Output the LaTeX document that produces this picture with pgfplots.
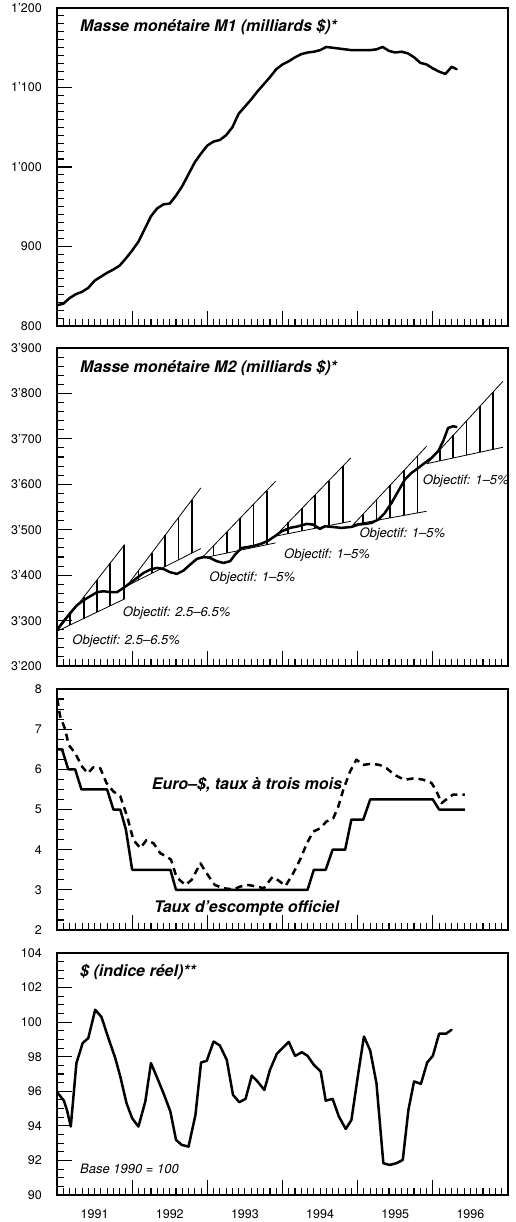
\documentclass[border=0pt]{standalone}
\usepackage{pgfplots}
\pgfplotsset{compat=1.18}
\usepackage{fontspec}
\setmainfont{TeX Gyre Heros}

\newcommand\paneltitle{\fontsize{16}{18}\selectfont\bfseries\itshape}
\newcommand\notefont{\fontsize{13}{15}\selectfont\itshape}
\newcommand\tickfont{\fontsize{12.5}{14}\selectfont}

\pgfplotsset{
  panel/.style={
    scale only axis,
    width=451pt,
    xmin=0, xmax=72,
    axis line style={line width=1.2pt},
    tick style={black, line width=1.1pt},
    major tick length=15pt,
    minor tick length=7pt,
    tick align=inside,
    xtick={0,12,...,72},
    minor x tick num=11,
    xtick pos=left, ytick pos=left,
    xticklabels={},
    scaled y ticks=false,
    /pgf/number format/1000 sep={'},
    yticklabel={\pgfmathprintnumber[assume math mode=true]{\tick}},
    yticklabel style={font=\tickfont, inner sep=0pt, xshift=-15pt, anchor=east},
    unbounded coords=jump,
  },
  curve/.style={black, line width=2.5pt, line join=round, line cap=round},
  band/.style={black, line width=0.8pt},
  hatch/.style={black, line width=1.8pt},
}

\begin{document}
\begin{tikzpicture}
\useasboundingbox (0,0) rectangle (515pt,-1222pt);

% ---------- M1 ----------
\begin{axis}[panel, at={(57pt,-8pt)}, anchor=north west, height=318pt,
  ymin=800, ymax=1200, ytick={800,900,1000,1100,1200}, minor y tick num=9]
\addplot[curve] coordinates {
(0,826) (1,828) (2,835) (3,840) (4,843) (5,848) (6,857) (7,862) (8,867) (9,871)
(10,876) (11,885) (12,895) (13,906) (14,922) (15,938) (16,948) (17,953) (18,954) (19,964)
(20,976) (21,991) (22,1006) (23,1017) (24,1027) (25,1032) (26,1034) (27,1040) (28,1050) (29,1067)
(30,1076) (31,1085) (32,1095) (33,1104) (34,1113) (35,1123) (36,1129) (37,1133) (38,1138) (39,1142)
(40,1144) (41,1145) (42,1147) (43,1151) (44,1150) (45,1149) (46,1148) (47,1147) (48,1147) (49,1147)
(50,1147) (51,1148) (52,1151) (53,1146) (54,1144) (55,1145) (56,1143) (57,1138) (58,1131) (59,1129)
(60,1124) (61,1120) (62,1117) (63,1126) (63.8,1123)
};
\node[anchor=base west, font=\paneltitle, inner sep=0pt] at (axis cs:3.67,1170.2) {Masse monétaire M1 (milliards \$)*};
\end{axis}

% ---------- M2 ----------
\begin{axis}[panel, at={(57pt,-348pt)}, anchor=north west, height=318pt,
  ymin=3200, ymax=3900, ytick={3200,3300,...,3900}, minor y tick num=4]
% target bands: upper bound, base, lower bound
\addplot[band] coordinates {(10.8,3467.3) (0,3276.5) (10.8,3347.7)};
\addplot[band] coordinates {(22.96,3592.0) (11.16,3376.3) (22.96,3458.5)};
\addplot[band] coordinates {(34.9,3606.7) (23.06,3437.0) (34.9,3471.0)};
\addplot[band] coordinates {(46.9,3658.0) (34.8,3485.6) (46.9,3518.6)};
\addplot[band] coordinates {(59.0,3683.7) (47.3,3511.3) (59.0,3540.6)};
\addplot[band] coordinates {(71.2,3826.8) (59.1,3645.6) (71.2,3681.5)};
% hatching inside the bands
\addplot[hatch] coordinates {
(2.13,3290.5) (2.13,3314.1) (2.13,nan) (4.25,3304.5) (4.25,3351.6) (4.25,nan)
(6.38,3318.5) (6.38,3389.2) (6.38,nan) (8.50,3332.5) (8.50,3426.7) (8.50,nan)
(10.73,3347.2) (10.73,3466.1) (10.73,nan)
(13.02,3389.3) (13.02,3410.3) (13.02,nan) (15.14,3404.0) (15.14,3449.1) (15.14,nan)
(17.27,3418.9) (17.27,3488.0) (17.27,nan) (19.40,3433.7) (19.40,3526.9) (19.40,nan)
(21.52,3448.5) (21.52,3565.7) (21.52,nan)
(24.98,3442.5) (24.98,3464.5) (24.98,nan) (27.10,3448.6) (27.10,3494.9) (27.10,nan)
(29.23,3454.7) (29.23,3525.4) (29.23,nan) (31.36,3460.8) (31.36,3555.9) (31.36,nan)
(33.48,3466.9) (33.48,3586.3) (33.48,nan)
(36.93,3491.4) (36.93,3516.0) (36.93,nan) (39.10,3497.3) (39.10,3546.9) (39.10,nan)
(41.25,3503.2) (41.25,3577.5) (41.25,nan) (43.40,3509.1) (43.40,3608.2) (43.40,nan)
(45.60,3515.1) (45.60,3639.5) (45.60,nan)
(48.89,3515.3) (48.89,3534.7) (48.89,nan) (51.01,3520.6) (51.01,3566.0) (51.01,nan)
(53.14,3525.9) (53.14,3597.4) (53.14,nan) (55.42,3531.6) (55.42,3631.0) (55.42,nan)
(57.55,3536.9) (57.55,3662.4) (57.55,nan)
(61.11,3651.6) (61.11,3675.7) (61.11,nan) (63.24,3657.9) (63.24,3707.6) (63.24,nan)
(65.36,3664.2) (65.36,3739.4) (65.36,nan) (67.49,3670.5) (67.49,3771.3) (67.49,nan)
(69.61,3676.8) (69.61,3803.0)
};
\addplot[curve] coordinates {
(0,3280.2) (1.06,3298.5) (2.13,3316.9) (3.19,3333.8) (4.25,3344.8) (5.31,3353.6) (6.38,3362.4)
(7.44,3364.6) (8.50,3362.4) (9.57,3362.4) (10.63,3371.9) (11.69,3382.9) (12.75,3393.9)
(13.82,3404.9) (14.88,3412.3) (15.94,3415.9) (17.0,3413.7) (18.07,3406.4) (19.13,3402.7)
(20.19,3410.1) (21.26,3423.3) (22.32,3435.7) (23.38,3440.1) (24.44,3437.9) (25.51,3430.6)
(26.57,3426.9) (27.63,3430.6) (28.43,3445.3) (29.49,3459.9) (30.55,3462.1) (31.62,3465.1)
(32.68,3469.5) (33.74,3476.1) (34.81,3486.0) (35.87,3496.6) (37.2,3504.0) (38.53,3507.6)
(39.86,3512.8) (40.92,3511.3) (41.98,3501.8) (42.78,3507.6) (43.84,3506.2) (45.43,3504.0)
(47.03,3506.2) (48.09,3511.3) (49.15,3512.8) (50.22,3515.0) (51.28,3522.3) (52.34,3537.0)
(53.41,3559.0) (54.47,3584.7) (55.53,3610.4) (56.6,3625.0) (57.66,3636.0) (58.72,3647.0)
(59.78,3658.0) (60.85,3672.7) (61.64,3694.7) (62.44,3724.1) (63.24,3727.7) (63.77,3726.3)
};
\node[anchor=base west, font=\paneltitle, inner sep=0pt] at (axis cs:3.67,3846.5) {Masse monétaire M2 (milliards \$)*};
\node[anchor=base west, font=\notefont, inner sep=0pt] at (axis cs:2.44,3247.8) {Objectif: 2.5–6.5\%};
\node[anchor=base west, font=\notefont, inner sep=0pt] at (axis cs:10.49,3310.0) {Objectif: 2.5–6.5\%};
\node[anchor=base west, font=\notefont, inner sep=0pt] at (axis cs:24.31,3385.6) {Objectif: 1–5\%};
\node[anchor=base west, font=\notefont, inner sep=0pt] at (axis cs:36.24,3437.0) {Objectif: 1–5\%};
\node[anchor=base west, font=\notefont, inner sep=0pt] at (axis cs:48.26,3483.3) {Objectif: 1–5\%};
\node[anchor=base west, font=\notefont, inner sep=0pt] at (axis cs:58.38,3600.6) {Objectif: 1–5\%};
\end{axis}

% ---------- interest rates ----------
\begin{axis}[panel, at={(57pt,-689pt)}, anchor=north west, height=241pt,
  ymin=2, ymax=8, ytick={2,3,...,8}, minor y tick num=3]
\addplot[curve, line cap=butt, dash pattern=on 7pt off 5pt] coordinates {
(0.05,7.75) (0.5,7.32) (1.3,7.0) (1.86,6.61) (2.9,6.4) (4.0,6.07) (4.9,5.9) (5.8,6.05)
(6.9,6.03) (7.9,5.66) (9.0,5.45) (10.1,5.33) (11.2,4.83) (12.2,4.24) (13.3,4.04) (14.3,4.24)
(15.4,4.16) (16.5,3.91) (17.5,3.83) (18.2,3.75) (19.1,3.31) (20.5,3.12) (21.5,3.25) (22.9,3.66)
(23.9,3.41) (25.2,3.12) (26.6,3.04) (28.2,3.01) (29.2,3.08) (30.6,3.12) (31.9,3.08) (33.0,3.04)
(34.4,3.32) (35.2,3.25) (36.5,3.10) (37.7,3.41) (38.8,3.75) (39.9,4.16) (40.9,4.45) (42.0,4.53)
(43.0,4.70) (44.1,4.78) (44.9,5.07) (45.7,5.49) (46.8,5.95) (47.8,6.24) (48.9,6.11) (50.2,6.14)
(51.5,6.11) (52.6,6.03) (53.9,5.86) (55.5,5.74) (57.1,5.78) (58.5,5.74) (59.8,5.66) (60.6,5.45)
(61.4,5.16) (62.4,5.28) (63.2,5.37) (65.1,5.37)
};
\addplot[curve, line cap=butt] coordinates {
(0.05,6.5) (0.8,6.5) (1.8,6.0) (2.9,6.0) (3.9,5.5) (8.0,5.5) (9.0,5.0) (10.1,5.0) (11.0,4.5)
(12.0,3.5) (18.1,3.5) (19.0,3.0) (40.0,3.0) (41.0,3.5) (42.9,3.5) (44.0,4.0) (46.0,4.0)
(47.0,4.75) (48.9,4.75) (50.0,5.25) (60.0,5.25) (61.0,5.0) (65.1,5.0)
};
\node[anchor=base west, font=\paneltitle, inner sep=0pt] at (axis cs:15.11,5.503) {Euro–\$, taux à trois mois};
\node[anchor=base west, font=\paneltitle, inner sep=0pt] at (axis cs:15.48,2.44) {Taux d’escompte officiel};
\end{axis}

% ---------- real dollar index ----------
\begin{axis}[panel, at={(57pt,-953pt)}, anchor=north west, height=242pt,
  ymin=90, ymax=104, ytick={90,92,...,104}, minor y tick num=3,
  x tick label as interval,
  xticklabel={\pgfmathparse{int(round(1991+\tick/12))}\pgfmathresult},
  xticklabel style={font=\tickfont, inner sep=0pt, anchor=north, yshift=-14pt}]
\addplot[curve] coordinates {
(0,95.95) (1.1,95.46) (1.6,94.9) (2.2,93.96) (3.1,97.63) (4.1,98.79) (5.0,99.08) (6.1,100.72)
(7.1,100.3) (8.2,99.08) (9.3,97.92) (10.1,96.86) (11.1,95.31) (12.0,94.44) (13.0,93.96)
(14.1,95.41) (15.0,97.63) (15.9,96.86) (17.0,95.89) (18.1,94.83) (19.0,93.19) (19.9,92.9)
(21.0,92.8) (22.1,94.63) (23.0,97.67) (23.9,97.76) (25.0,98.88) (26.0,98.65) (27.1,97.82)
(28.1,95.79) (29.1,95.37) (30.1,95.56) (31.1,96.91) (32.0,96.57) (33.1,96.08) (34.0,97.24)
(35.1,98.17) (36.0,98.5) (37.0,98.86) (38.0,98.05) (39.1,98.26) (40.0,98.05) (41.0,97.53)
(42.1,97.14) (42.9,95.46) (44.0,95.56) (45.0,94.54) (46.1,93.82) (47.0,94.34) (48.1,97.05)
(49.0,99.17) (50.0,98.36) (51.0,96.47) (52.1,91.84) (53.1,91.74) (54.2,91.84) (55.2,92.03)
(56.1,94.92) (57.0,96.57) (58.1,96.43) (59.1,97.67) (60.0,98.05) (61.0,99.33) (62.1,99.33)
(63.0,99.56)
};
\node[anchor=base west, font=\paneltitle, inner sep=0pt] at (axis cs:3.67,102.63) {\$ (indice réel)**};
\node[anchor=base west, font=\notefont, inner sep=0pt] at (axis cs:3.67,91.26) {Base 1990 = 100};
\end{axis}
\end{tikzpicture}
\end{document}
